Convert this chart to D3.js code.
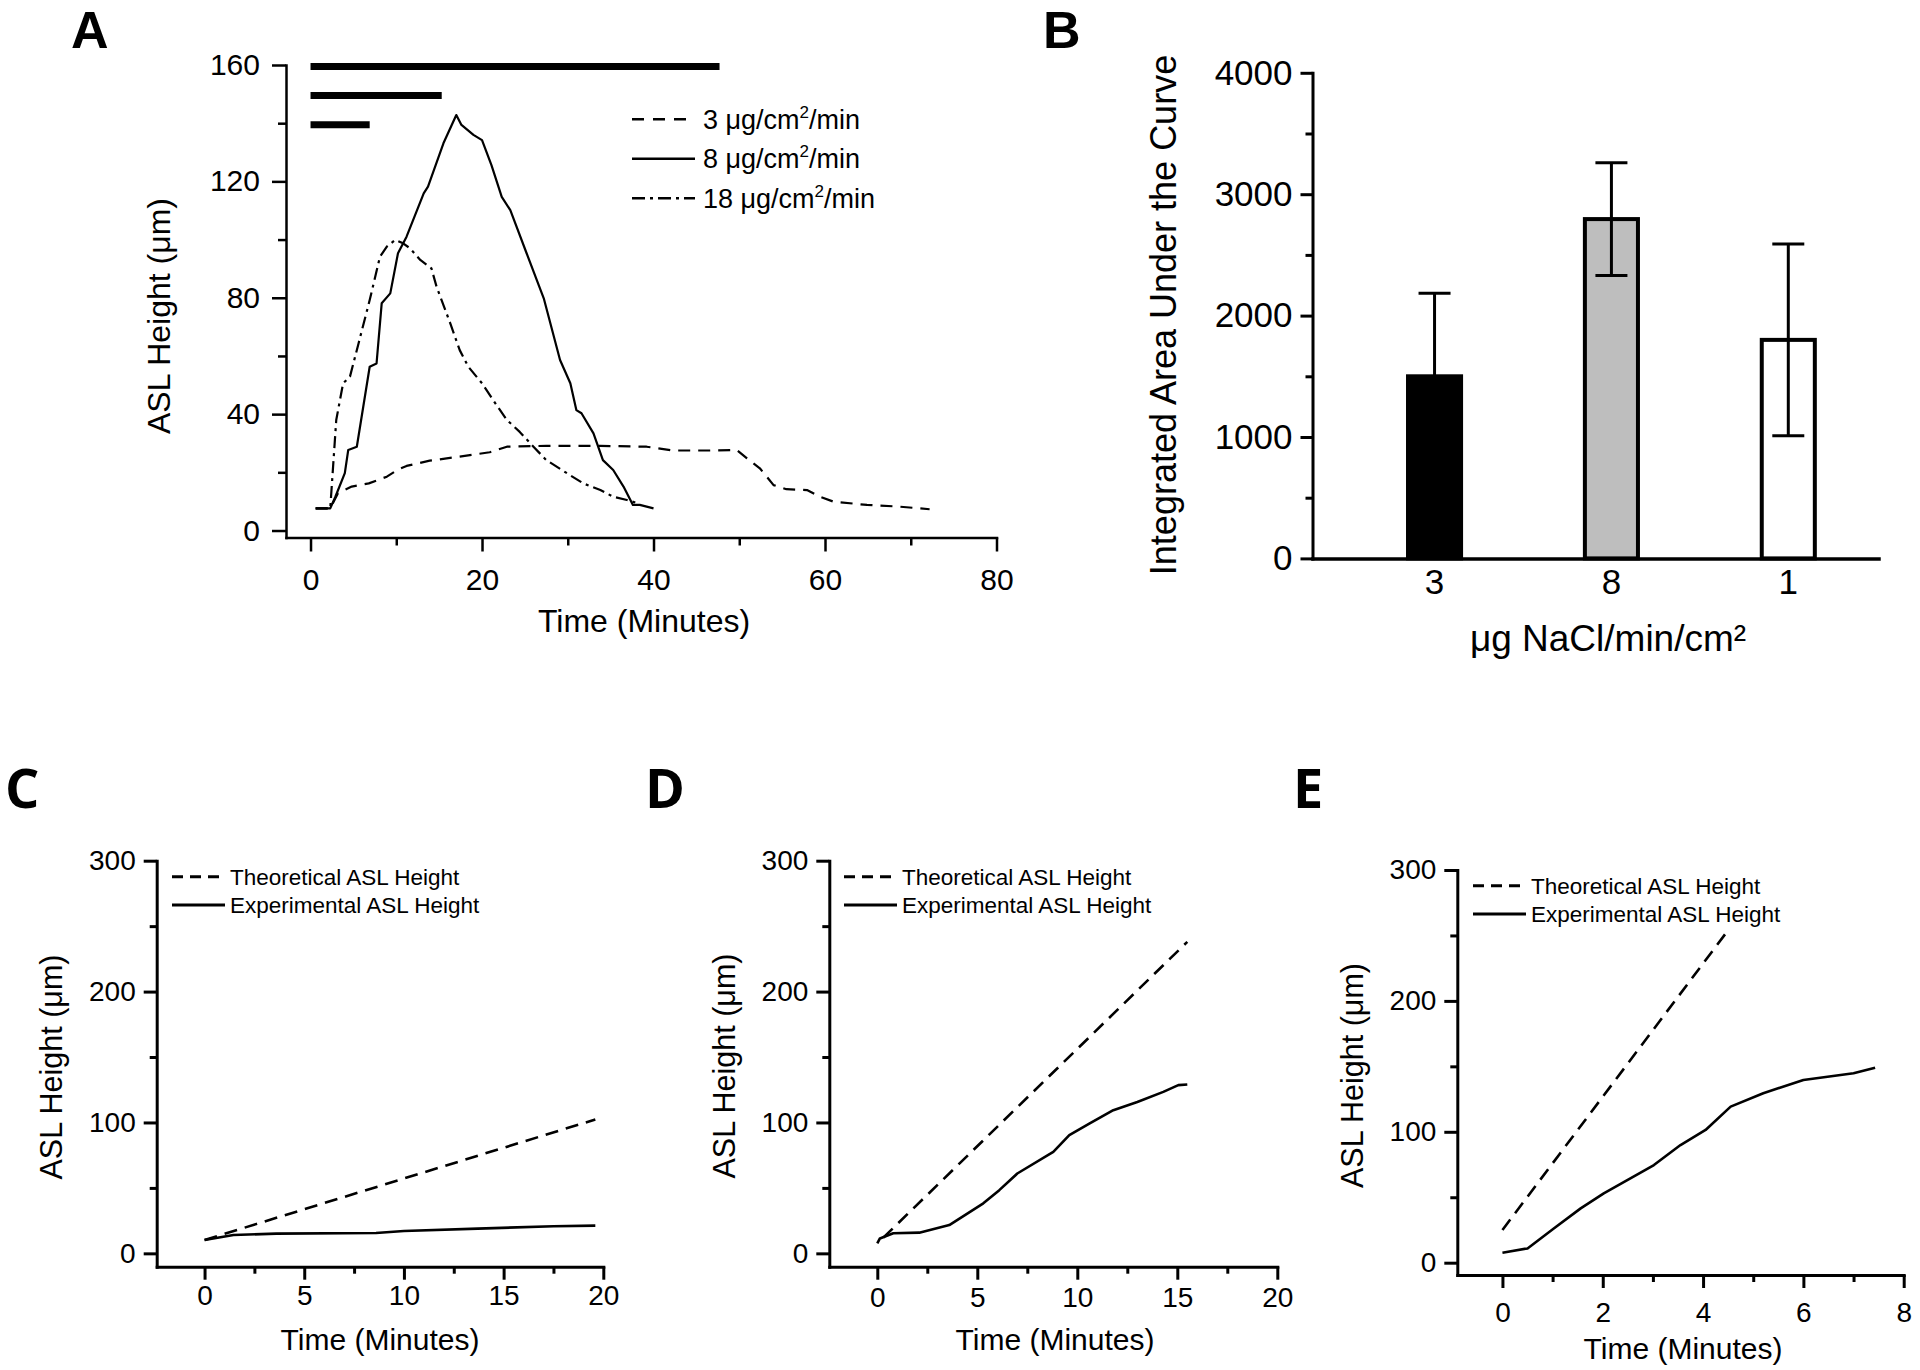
<!DOCTYPE html>
<html>
<head>
<meta charset="utf-8">
<script src="https://cdn.jsdelivr.net/npm/d3@7"></script>
<style>
  body { margin: 0; background: #fff; }
  svg { display: block; }
</style>
</head>
<body>
<div id="figure"></div>
<script>
// ---------------- data ----------------

// panel A: ASL height (um) against time (min), [time, height]
var curveA3 = [[0.6,7.6],[2.3,7.6],[3.2,12.8],[4.8,15.1],[6.8,16.2],[8.9,18.5],[10.1,20.8],[11.2,22.2],
  [13.9,24],[17.4,25.4],[20.9,26.9],[22.9,28.8],[27.5,29.1],[33.8,29.1],[39.2,28.8],[42.3,27.5],
  [46.6,27.5],[49.7,27.7],[50.9,24.8],[52.4,21.4],[54.0,15.6],[55.5,14.2],[57.9,13.9],[59.4,11.6],
  [61.0,9.9],[64.9,8.8],[68.7,8.2],[72.2,7.3]];
var curveA8 = [[0.6,7.6],[2.3,7.6],[2.9,11.6],[4.0,19.7],[4.4,27.7],[5.4,28.8],[6.9,56.3],[7.7,57.4],
  [8.3,78.1],[9.3,81.5],[10.2,95.3],[11.2,101],[13.2,115.9],[13.7,118.2],[15.5,133.1],[17.0,142.8],
  [17.6,139.4],[19.0,136],[20.0,134.2],[21.1,125.6],[22.3,114.7],[23.3,110.1],[25.2,95.3],[27.2,79.8],
  [29.1,58.6],[30.3,50.6],[31.0,41.4],[31.6,40.3],[33.0,33.4],[34.1,24.2],[35.3,20.8],[36.5,15.1],
  [37.6,8.8],[38.4,8.8],[40.0,7.6]];
var curveA18 = [[0.6,7.6],[2.3,7.6],[3.0,38],[3.8,50.6],[4.6,52.9],[5.6,64.3],[6.9,79.2],[8.1,94.1],
  [8.9,97.6],[9.9,99.9],[10.8,98.7],[11.6,97],[12.8,93],[14.1,90.1],[14.7,83.8],[16.3,71.2],[17.4,62],
  [18.4,56.3],[20.0,50.6],[21.3,44.8],[22.9,38],[24.4,33.9],[26.0,28.8],[27.5,24.2],[29.9,19.7],
  [31.8,16.2],[33.8,13.9],[35.3,11.6],[36.9,10.5],[38.0,9.5]];
// exposure bars drawn above the curves (minutes, height level)
var exposureEnd = [47.7, 15.3, 6.9];
var exposureLevel = [159.5, 149.5, 139.5];
var legendA = ["3 μg/cm", "8 μg/cm", "18 μg/cm"];

// panel B: integrated area under the curve
var doseLabels = ["3", "8", "1"];
var aucMean = [1500, 2795, 1800];
var aucErr = [685, 465, 790];

// panels C, D, E: theoretical vs experimental ASL height, [time, height]
var theoryC = [[0,10.2],[19.6,102.3]];
var exptC = [[0,10.2],[1.45,14],[3.6,15.1],[8.6,15.6],[10,17.1],[13.7,18.9],[17.5,20.7],[19.6,21.2]];
var theoryD = [[0.3,12],[15.5,238]];
var exptD = [[0,7.6],[0.13,11.4],[0.8,15.3],[2.1,15.8],[3.6,21.6],[5.3,38.2],[6.1,48.3],[7.0,61],
  [8.8,77.6],[9.6,90.3],[10.6,99.2],[11.8,109.4],[13.0,115.7],[14.3,123.4],[15.05,128.5],[15.5,129]];
var theoryE = [[0,25],[4.5,254]];
var exptE = [[0,7.6],[0.5,10.9],[1.03,26.3],[1.56,41.5],[2.02,53],[3.02,74.6],[3.55,89.9],[4.05,101.4],
  [4.55,119.2],[5.2,129.4],[6.0,139.6],[7.0,144.7],[7.43,149]];
var legendCDE = ["Theoretical ASL Height", "Experimental ASL Height"];

// tick values
var ticksAx = [0, 20, 40, 60, 80], minorAx = [10, 30, 50, 70];
var ticksAy = [0, 40, 80, 120, 160], minorAy = [20, 60, 100, 140];
var ticksBy = [0, 1000, 2000, 3000, 4000], minorBy = [500, 1500, 2500, 3500];
var ticksCDx = [0, 5, 10, 15, 20], minorCDx = [2.5, 7.5, 12.5, 17.5];
var ticksEx = [0, 2, 4, 6, 8], minorEx = [1, 3, 5, 7];
var ticksCDEy = [0, 100, 200, 300], minorCDEy = [50, 150, 250];

// ---------------- drawing ----------------
var FONT = "'Liberation Sans', Arial, Helvetica, sans-serif";
var LABEL_FONT = "'Open Sans', Calibri, sans-serif";

var svg = d3.select("#figure")
            .append("svg")
            .attr("width", 1920)
            .attr("height", 1370);

svg.append("rect").attr("width", 1920).attr("height", 1370).attr("fill", "#fff");

function styleAxis(g, size, width) {
  g.attr("font-family", FONT).attr("font-size", size);
  g.select(".domain").attr("stroke", "#000").attr("stroke-width", width).attr("stroke-linecap", "square");
  g.selectAll(".tick line").attr("stroke", "#000").attr("stroke-width", width);
  g.selectAll(".tick text").attr("fill", "#000");
}

function minorAxis(axis, values, size, width, transform) {
  var g = svg.append("g")
             .attr("transform", transform)
             .call(axis.tickValues(values).tickSize(size).tickFormat(""));
  g.select(".domain").remove();
  g.selectAll(".tick line").attr("stroke", "#000").attr("stroke-width", width);
}

// draw x and y axes with major and minor ticks
function drawFrame(p) {
  var xT = "translate(0," + p.y.range()[0] + ")";
  var yT = "translate(" + p.x.range()[0] + ",0)";
  minorAxis(d3.axisBottom(p.x), p.xMinor, p.minor, p.width, xT);
  minorAxis(d3.axisLeft(p.y), p.yMinor, p.minor, p.width, yT);
  svg.append("g").attr("transform", xT)
     .call(d3.axisBottom(p.x).tickValues(p.xTicks).tickSize(p.tick).tickSizeOuter(0).tickPadding(p.xPad))
     .call(styleAxis, p.font, p.width);
  svg.append("g").attr("transform", yT)
     .call(d3.axisLeft(p.y).tickValues(p.yTicks).tickSize(p.tick).tickSizeOuter(0).tickPadding(p.yPad))
     .call(styleAxis, p.font, p.width);
}

function addTitle(x, y, str, size, rotate) {
  var t = svg.append("text")
     .attr("font-family", FONT)
     .attr("font-size", size)
     .attr("text-anchor", "middle")
     .attr("dy", "0.35em")
     .attr("fill", "#000")
     .text(str);
  if (rotate) t.attr("transform", "translate(" + x + "," + y + ") rotate(-90)");
  else t.attr("x", x).attr("y", y);
  return t;
}

function panelLabel(x, y, str, family, size) {
  svg.append("text")
     .attr("x", x).attr("y", y)
     .attr("font-family", family)
     .attr("font-weight", "bold")
     .attr("font-size", size)
     .attr("fill", "#000")
     .text(str);
}

function drawCurve(data, x, y, width, dash) {
  svg.append("path")
     .datum(data)
     .attr("fill", "none")
     .attr("stroke", "#000")
     .attr("stroke-width", width)
     .attr("stroke-linejoin", "round")
     .attr("stroke-dasharray", dash)
     .attr("d", d3.line().x(function(d) { return x(d[0]); }).y(function(d) { return y(d[1]); }));
}

// ---- panel A ----
var xA = d3.scaleLinear().domain([-2.86, 80]).range([286, 996.5]);
var yA = d3.scaleLinear().domain([-2.4, 160]).range([537.5, 65]);

drawFrame({x: xA, y: yA, xTicks: ticksAx, xMinor: minorAx, yTicks: ticksAy, yMinor: minorAy,
           tick: 14, minor: 8, xPad: 17, yPad: 12, font: 30, width: 2.5});

// exposure bars
svg.selectAll(".exposure")
   .data(exposureEnd)
   .enter()
   .append("line")
   .attr("class", "exposure")
   .attr("x1", xA(0))
   .attr("x2", function(d) { return xA(d); })
   .attr("y1", function(d, i) { return yA(exposureLevel[i]); })
   .attr("y2", function(d, i) { return yA(exposureLevel[i]); })
   .attr("stroke", "#000")
   .attr("stroke-width", 7);

var dashA = ["12,8", null, "12,5,3,5"];
[curveA3, curveA8, curveA18].forEach(function(c, i) { drawCurve(c, xA, yA, 2.2, dashA[i]); });

// legend A
var legendDashA = ["12,9", null, "13,5,3,5"];
legendA.forEach(function(label, i) {
  var ly = 119.3 + i * 39.5;
  svg.append("line").attr("x1", 632).attr("x2", 695).attr("y1", ly).attr("y2", ly)
     .attr("stroke", "#000").attr("stroke-width", 2.6).attr("stroke-dasharray", legendDashA[i]);
  var t = svg.append("text").attr("x", 703).attr("y", ly).attr("dy", "0.35em")
     .attr("font-family", FONT).attr("font-size", 27).attr("fill", "#000");
  t.append("tspan").text(label);
  t.append("tspan").attr("dy", -11).attr("font-size", 17).text("2");
  t.append("tspan").attr("dy", 11).text("/min");
});

addTitle(644, 621, "Time (Minutes)", 32, false);
addTitle(158.6, 316, "ASL Height (μm)", 32, true);
panelLabel(71, 48, "A", FONT, 52);

// ---- panel B ----
var xB = d3.scaleBand().domain(doseLabels).range([1312.5, 1878.5])
           .paddingInner(0.7).paddingOuter(0.45).align(0.6);
var yB = d3.scaleLinear().domain([0, 4000]).range([558.4, 72.8]);
var barFill = ["#000", "#bebebe", "#fff"];

minorAxis(d3.axisLeft(yB), minorBy, 7, 3, "translate(1312.5,0)");
svg.append("g").attr("transform", "translate(1312.5,0)")
   .call(d3.axisLeft(yB).tickValues(ticksBy).tickFormat(d3.format("d"))
           .tickSize(12).tickSizeOuter(0).tickPadding(8))
   .call(styleAxis, 35, 3);

svg.selectAll(".bar")
   .data(aucMean)
   .enter()
   .append("rect")
   .attr("class", "bar")
   .attr("x", function(d, i) { return xB(doseLabels[i]); })
   .attr("width", xB.bandwidth())
   .attr("y", function(d) { return yB(d); })
   .attr("height", function(d) { return yB(0) - yB(d); })
   .attr("fill", function(d, i) { return barFill[i]; })
   .attr("stroke", "#000")
   .attr("stroke-width", 4);

// error bars
aucMean.forEach(function(m, i) {
  var cx = xB(doseLabels[i]) + xB.bandwidth() / 2;
  var lo = yB(m - aucErr[i]), hi = yB(m + aucErr[i]);
  svg.append("line").attr("x1", cx).attr("x2", cx).attr("y1", lo).attr("y2", hi)
     .attr("stroke", "#000").attr("stroke-width", 3);
  [lo, hi].forEach(function(yy) {
    svg.append("line").attr("x1", cx - 16).attr("x2", cx + 16).attr("y1", yy).attr("y2", yy)
       .attr("stroke", "#000").attr("stroke-width", 3);
  });
});

svg.append("g").attr("transform", "translate(0," + yB(0) + ")")
   .call(d3.axisBottom(xB).tickSize(0).tickSizeOuter(0).tickPadding(11))
   .call(styleAxis, 35, 3.5);

addTitle(1163.5, 315, "Integrated Area Under the Curve", 36, true);
addTitle(1608, 638, "μg NaCl/min/cm²", 37, false);
panelLabel(1043, 48, "B", FONT, 52);

// ---- panels C, D, E ----
function drawTimePanel(p) {
  drawFrame({x: p.x, y: p.y, xTicks: p.xTicks, xMinor: p.xMinor, yTicks: ticksCDEy, yMinor: minorCDEy,
             tick: 13, minor: 7, xPad: p.xPad, yPad: 8, font: 28, width: 3});
  drawCurve(p.theory, p.x, p.y, 2.6, "13,8");
  drawCurve(p.expt, p.x, p.y, 2.6, null);
  legendCDE.forEach(function(label, i) {
    var ly = p.legY + i * 28.3;
    svg.append("line").attr("x1", p.legX).attr("x2", p.legX + 53).attr("y1", ly).attr("y2", ly)
       .attr("stroke", "#000").attr("stroke-width", 3).attr("stroke-dasharray", i === 0 ? "11,7" : null);
    svg.append("text").attr("x", p.legX + 58).attr("y", ly).attr("dy", "0.35em")
       .attr("font-family", FONT).attr("font-size", 22.5).attr("fill", "#000").text(label);
  });
  addTitle(p.titleX, p.titleY, "Time (Minutes)", 30, false);
  addTitle(p.yTitleX, p.yTitleY, "ASL Height (μm)", 30.5, true);
  panelLabel(p.labelX, 808, p.label, LABEL_FONT, 54);
}

drawTimePanel({
  x: d3.scaleLinear().domain([-2.4, 20]).range([156.7, 603.3]),
  y: d3.scaleLinear().domain([-10.2, 300]).range([1266.7, 860.7]),
  xTicks: ticksCDx, xMinor: minorCDx, xPad: 5,
  theory: theoryC, expt: exptC,
  legX: 172, legY: 876.7, titleX: 380, titleY: 1339, yTitleX: 51.3, yTitleY: 1067,
  label: "C", labelX: 5
});

drawTimePanel({
  x: d3.scaleLinear().domain([-2.4, 20]).range([829.3, 1277.3]),
  y: d3.scaleLinear().domain([-10.2, 300]).range([1266.7, 860.7]),
  xTicks: ticksCDx, xMinor: minorCDx, xPad: 7,
  theory: theoryD, expt: exptD,
  legX: 844, legY: 876.7, titleX: 1055, titleY: 1339, yTitleX: 724.6, yTitleY: 1066,
  label: "D", labelX: 645
});

drawTimePanel({
  x: d3.scaleLinear().domain([-0.9, 8]).range([1457.3, 1903.7]),
  y: d3.scaleLinear().domain([-9.4, 300]).range([1275, 870]),
  xTicks: ticksEx, xMinor: minorEx, xPad: 14,
  theory: theoryE, expt: exptE,
  legX: 1473, legY: 885.7, titleX: 1683, titleY: 1348.6, yTitleX: 1352, yTitleY: 1075.5,
  label: "E", labelX: 1293
});
</script>
</body>
</html>
